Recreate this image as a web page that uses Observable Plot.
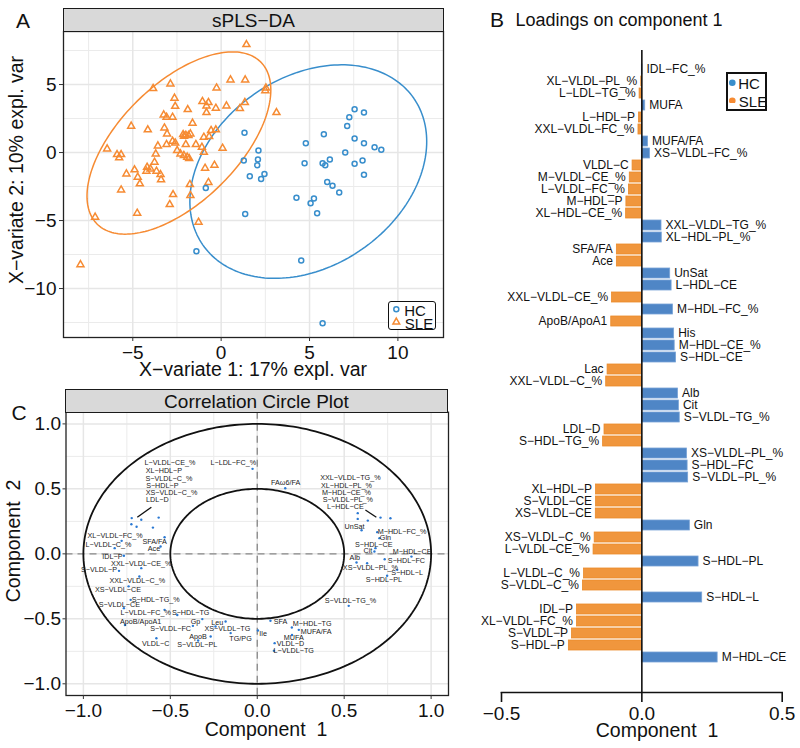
<!DOCTYPE html>
<html><head><meta charset="utf-8">
<script src="https://cdn.jsdelivr.net/npm/d3@7"></script>
<script src="https://cdn.jsdelivr.net/npm/@observablehq/plot@0.6"></script>
<style>
body{margin:0;background:#fff;font-family:"Liberation Sans",Arial,sans-serif;}
#page{position:relative;width:800px;height:748px;overflow:hidden;background:#fff;}
#page svg{position:absolute;}
.strip{position:absolute;background:#D9D9D9;border:1.5px solid #1a1a1a;box-sizing:border-box;}
.lg{position:absolute;border:1.6px solid #111;box-sizing:border-box;border-radius:3px;background:#fff;}
</style></head>
<body><div id="page"></div>
<script>
// ---------- Panel A: sPLS-DA sample plot ----------
const sleX = [1.43,0.53,1.36,2.53,2.5,-0.26,-2.87,-3.85,-2.64,-2.6,-1.89,-1.06,-0.72,-0.83,-0.3,0.3,1.06,1.34,3.13,-3.25,-3.09,-2.75,-1.62,-0.83,-5.09,-4.15,-3.21,-3.06,-2.15,-2.0,-1.74,-2.1,-1.85,-0.57,-0.3,-0.98,-0.68,-3.58,-3.09,-2.75,-2.6,-2.0,-1.43,-1.09,0.08,-6.45,-5.89,-5.66,-5.77,-3.7,-2.49,-2.3,-2.11,-1.92,-1.81,-0.98,-3.77,-4.19,-4.0,-4.23,-3.66,-3.43,-3.4,-5.36,-4.9,-4.72,-4.6,-0.91,-0.38,-1.77,-0.72,-5.66,-2.72,-1.74,-2.91,-4.75,-7.13,-1.28,-7.96];
const sleY = [7.94,5.34,5.34,4.75,4.55,4.75,5.05,4.71,4.0,3.4,3.16,3.75,3.68,3.43,3.26,3.43,3.24,3.68,2.94,2.77,2.6,2.6,2.16,2.94,1.94,1.67,1.81,1.37,1.32,1.27,1.37,1.2,1.25,1.62,1.67,1.13,1.18,0.49,0.59,0.83,0.7,0.59,0.59,0.39,0.32,0.27,-0.15,-0.15,-0.39,-0.1,0.15,-0.1,-0.22,-0.34,-0.44,0.02,-0.71,-1.08,-1.2,-1.37,-1.37,-1.62,-2.0,-1.57,-1.27,-1.81,-2.3,-1.15,-0.93,-2.35,-2.2,-2.75,-3.09,-3.16,-3.82,-4.46,-4.75,-5.12,-8.24];
const hcX = [1.32,2.11,2.08,2.04,1.28,1.62,2.26,2.45,-0.87,1.36,-1.4,4.79,4.72,5.81,5.74,5.89,6.15,6.0,6.3,6.68,4.26,5.25,5.06,5.43,4.53,5.74,7.13,7.25,7.55,8.08,7.55,8.08,7.02,7.55,8.0,8.08,8.68,9.06];
const hcY = [1.45,0.15,-0.51,-0.93,-0.59,-1.74,-1.94,-1.57,-2.6,-4.51,-7.25,0.69,-0.78,1.35,-0.78,-0.93,-0.51,-2.16,-2.45,-2.94,-3.33,-3.38,-3.73,-4.46,-7.94,-12.55,1.96,2.6,3.19,2.94,1.03,0.69,0.0,-0.83,-0.59,-1.64,0.39,0.2];
// 95% confidence ellipse parameters per group (centre, sd x, sd y, covariance)
const ellipseGroups = ["HC","SLE"];
const ellipseCx = [4.93,-2.39];
const ellipseCy = [-1.4,0.7];
const ellipseSx = [6.7,5.2];
const ellipseSy = [7.85,6.7];
const ellipseSxy = [14.8,20.3];
const xTicksA = [-5,0,5,10];
const yTicksA = [-10,-5,0,5];
const xMinorA = [-7.5,-2.5,2.5,7.5];
const yMinorA = [-12.5,-7.5,-2.5,2.5,7.5];

// ---------- Panel B: loadings on component 1 ----------
const loadNames = ["IDL-FC_%","XL-VLDL-PL_%","L-LDL-TG_%","MUFA","L-HDL-P","XXL-VLDL-FC_%","MUFA/FA","XS-VLDL-FC_%","VLDL-C","M-VLDL-CE_%","L-VLDL-FC_%","M-HDL-P","XL-HDL-CE_%","XXL-VLDL-TG_%","XL-HDL-PL_%","SFA/FA","Ace","UnSat","L-HDL-CE","XXL-VLDL-CE_%","M-HDL-FC_%","ApoB/ApoA1","His","M-HDL-CE_%","S-HDL-CE","Lac","XXL-VLDL-C_%","Alb","Cit","S-VLDL-TG_%","LDL-D","S-HDL-TG_%","XS-VLDL-PL_%","S-HDL-FC","S-VLDL-PL_%","XL-HDL-P","S-VLDL-CE","XS-VLDL-CE","Gln","XS-VLDL-C_%","L-VLDL-CE_%","S-HDL-PL","L-VLDL-C_%","S-VLDL-C_%","S-HDL-L","IDL-P","XL-VLDL-FC_%","S-VLDL-P","S-HDL-P","M-HDL-CE"];
const loadValues = [0.002,-0.002,-0.008,0.012,-0.01,-0.012,0.022,0.029,-0.033,-0.043,-0.046,-0.055,-0.056,0.07,0.071,-0.089,-0.089,0.101,0.106,-0.106,0.111,-0.109,0.115,0.117,0.122,-0.122,-0.127,0.129,0.132,0.135,-0.133,-0.138,0.161,0.163,0.165,-0.163,-0.163,-0.164,0.171,-0.168,-0.172,0.202,-0.206,-0.21,0.215,-0.231,-0.231,-0.249,-0.26,0.27];
const loadGroups = loadValues.map(v => v > 0 ? "HC" : "SLE");
const xTicksB = [-0.5,0,0.5];

// ---------- Panel C: correlation circle ----------
const corrNames = ["L-LDL-FC_%","L-VLDL-CE_%","XL-HDL-P","S-VLDL-C_%","S-HDL-P","XS-VLDL-C_%","LDL-D","XL-VLDL-FC_%","L-VLDL-C_%","SFA/FA","Ace","IDL-P","XXL-VLDL-CE_%","S-VLDL-P","XXL-VLDL-C_%","XS-VLDL-CE","S-HDL-TG_%","S-VLDL-CE","L-VLDL-FC_%","S-HDL-TG","ApoB/ApoA1","Gp","Leu","S-VLDL-FC","XS-VLDL-TG","ApoB","TG/PG","VLDL-C","S-VLDL-PL","S-VLDL-TG_%","SFA","Ile","M-HDL-TG","MUFA/FA","MUFA","VLDL-D","L-VLDL-TG","FAω6/FA","XXL-VLDL-TG_%","XL-HDL-PL_%","M-HDL-CE_%","S-VLDL-PL_%","L-HDL-CE","UnSat","M-HDL-FC_%","Gln","S-HDL-CE","Cit","M-HDL-CE","Alb","S-HDL-FC","XS-VLDL-PL_%","S-HDL-L","S-HDL-PL"];
const corrX = [-0.027,-0.722,-0.667,-0.567,-0.724,-0.694,-0.6,-0.78,-0.82,-0.533,-0.556,-0.767,-0.667,-0.795,-0.678,-0.74,-0.728,-0.767,-0.533,-0.46,-0.761,-0.316,-0.182,-0.37,-0.24,-0.268,-0.153,-0.58,-0.34,0.526,0.076,0.004,0.199,0.239,0.2,0.1,0.096,0.161,0.709,0.766,0.578,0.578,0.636,0.6,0.69,0.703,0.68,0.674,0.887,0.571,0.733,0.632,0.805,0.747];
const corrY = [0.654,0.275,0.262,0.279,0.228,0.208,0.202,0.1,0.044,0.128,0.056,-0.015,-0.11,-0.131,-0.174,-0.25,-0.354,-0.418,-0.431,-0.47,-0.548,-0.502,-0.521,-0.554,-0.559,-0.636,-0.61,-0.649,-0.667,-0.4,-0.515,-0.59,-0.567,-0.585,-0.625,-0.687,-0.746,0.505,0.279,0.274,0.313,0.269,0.256,0.182,0.167,0.121,0.044,0.018,-0.021,-0.067,-0.041,-0.072,-0.123,-0.169];
const corrLabelX = [-0.138,-0.502,-0.537,-0.508,-0.546,-0.493,-0.575,-0.818,-0.856,-0.59,-0.594,-0.833,-0.667,-0.91,-0.69,-0.801,-0.584,-0.793,-0.642,-0.383,-0.671,-0.355,-0.23,-0.498,-0.172,-0.341,-0.096,-0.584,-0.345,0.536,0.134,0.034,0.316,0.339,0.21,0.191,0.21,0.163,0.536,0.513,0.513,0.521,0.507,0.559,0.833,0.737,0.67,0.636,0.891,0.561,0.858,0.651,0.862,0.728];
const corrLabelY = [0.705,0.698,0.638,0.579,0.525,0.467,0.415,0.138,0.069,0.09,0.038,-0.021,-0.072,-0.123,-0.21,-0.277,-0.354,-0.392,-0.456,-0.456,-0.521,-0.521,-0.533,-0.577,-0.577,-0.636,-0.652,-0.692,-0.7,-0.362,-0.521,-0.615,-0.541,-0.598,-0.648,-0.692,-0.744,0.548,0.585,0.528,0.472,0.418,0.362,0.21,0.167,0.121,0.069,0.025,0.018,-0.033,-0.052,-0.11,-0.144,-0.2];
const leaderX1 = [-0.609,0.622], leaderY1 = [0.359,0.338], leaderX2 = [-0.69,0.685], leaderY2 = [0.282,0.282];
const circleRadii = [1,0.5];
const ticksC = [-1,-0.5,0,0.5,1];
const minorC = [-0.75,-0.25,0.25,0.75];

// ---------- styling ----------
const FONT = "'Liberation Sans', Arial, sans-serif";
const BLUE = "#388ECC", ORANGE = "#F68B33";
const GRID = "#EBEBEB";
const page = document.getElementById("page");
const minus = s => s.replace(/-/g, "\u2212");

function place(el, left, top) { el.style.left = left + "px"; el.style.top = top + "px"; page.appendChild(el); }
function label(str, x, y, size, rotate) {
  const d = document.createElement("div");
  d.textContent = str;
  Object.assign(d.style, {position:"absolute", left:x+"px", top:y+"px", fontSize:size+"px", lineHeight:"1",
    whiteSpace:"pre", color:"#111", fontFamily:FONT,
    transform:"translate(-50%,-50%)" + (rotate ? " rotate(-90deg)" : "")});
  page.appendChild(d);
}
const baseStyle = {background:"transparent", overflow:"visible", fontFamily:FONT, color:"#222"};

// ===== Panel A =====
const sle = sleX.map((x,i) => ({x, y: sleY[i]}));
const hc = hcX.map((x,i) => ({x, y: hcY[i]}));
const ell = ellipseGroups.flatMap((g,k) => d3.range(0,201).map(j => {
  const t = j/200*2*Math.PI;
  const b = ellipseSxy[k]/ellipseSx[k];
  const c = Math.sqrt(ellipseSy[k]**2 - b*b);
  return {g, x: ellipseCx[k] + ellipseSx[k]*Math.cos(t), y: ellipseCy[k] + b*Math.cos(t) + c*Math.sin(t)};
}));
const plotA = Plot.plot({
  width:460, height:390, marginLeft:63, marginRight:17, marginTop:31, marginBottom:53,
  x:{domain:[-8.92,12.58]}, y:{domain:[-13.6,8.9]},
  color:{domain:["HC","SLE"], range:[BLUE, ORANGE]},
  style:baseStyle,
  marks:[
    Plot.gridX(xMinorA, {stroke:GRID, strokeOpacity:1, strokeWidth:1}),
    Plot.gridY(yMinorA, {stroke:GRID, strokeOpacity:1, strokeWidth:1}),
    Plot.gridX(xTicksA, {stroke:"#E6E6E6", strokeOpacity:1, strokeWidth:1.5}),
    Plot.gridY(yTicksA, {stroke:"#E6E6E6", strokeOpacity:1, strokeWidth:1.5}),
    Plot.line(ell, {x:"x", y:"y", z:"g", stroke:"g", strokeWidth:1.5}),
    Plot.dot(sle, {x:"x", y:"y", symbol:"triangle", r:2.6, stroke:ORANGE, strokeWidth:1.5}),
    Plot.dot(hc, {x:"x", y:"y", symbol:"circle", r:2.5, stroke:BLUE, strokeWidth:1.5}),
    Plot.frame({stroke:"#222", strokeWidth:1.3}),
    Plot.axisX(xTicksA, {tickSize:4, tickPadding:4, fontSize:19, label:null, stroke:"#333", fill:"#111"}),
    Plot.axisY(yTicksA, {tickSize:4, tickPadding:3, fontSize:19, label:null, stroke:"#333", fill:"#111"})
  ]
});
place(plotA, 0, 0);

// ===== Panel B =====
const loads = loadNames.map((n,i) => ({name:n, value:loadValues[i], group:loadGroups[i]}));
const plotB = Plot.plot({
  width:340, height:748, marginLeft:41, marginRight:18.3, marginTop:50, marginBottom:56,
  x:{domain:[-0.5,0.5]},
  y:{domain:loadNames, range:[56.7,669.1], padding:0.18, axis:null},
  color:{domain:["HC","SLE"], range:["#4F86C6","#F0963D"]},
  style:baseStyle,
  marks:[
    Plot.barX(loads, {x:"value", y:"name", fill:"group", stroke:d => d.group === "HC" ? "#79A3D6" : "#EA8A2A", strokeWidth:0.8}),
    Plot.ruleX([0], {stroke:"#111", strokeWidth:1.6}),
    Plot.text(loads.filter(d => d.value > 0), {x:"value", y:"name", text:d => minus(d.name), textAnchor:"start", dx:4, fontSize:12, fill:"#111"}),
    Plot.text(loads.filter(d => d.value <= 0), {x:"value", y:"name", text:d => minus(d.name), textAnchor:"end", dx:-4, fontSize:12, fill:"#111"}),
    Plot.frame({anchor:"bottom", stroke:"#111", strokeWidth:1.6}),
    Plot.axisX(xTicksB, {tickSize:10, tickPadding:4, fontSize:19, tickFormat:d3.format(".1f"), label:null, stroke:"#111", strokeWidth:1.6, fill:"#111"})
  ]
});
place(plotB, 460, 0);

// ===== Panel C =====
const circ = circleRadii.flatMap((r,k) => d3.range(0,241).map(j => {
  const t = j/240*2*Math.PI; return {k, x:r*Math.cos(t), y:r*Math.sin(t)};
}));
const corr = corrNames.map((n,i) => ({name:n, x:corrX[i], y:corrY[i], lx:corrLabelX[i], ly:corrLabelY[i]}));
const leaders = leaderX1.map((x1,i) => ({x1, y1:leaderY1[i], x2:leaderX2[i], y2:leaderY2[i]}));
const plotC = Plot.plot({
  width:460, height:368, marginLeft:65.5, marginRight:12, marginTop:31.7, marginBottom:53,
  x:{domain:[-1.1,1.1]}, y:{domain:[-1.09,1.09]},
  style:baseStyle,
  marks:[
    Plot.gridX(minorC, {stroke:GRID, strokeOpacity:1, strokeWidth:1}),
    Plot.gridY(minorC, {stroke:GRID, strokeOpacity:1, strokeWidth:1}),
    Plot.gridX(ticksC, {stroke:"#E6E6E6", strokeOpacity:1, strokeWidth:1.5}),
    Plot.gridY(ticksC, {stroke:"#E6E6E6", strokeOpacity:1, strokeWidth:1.5}),
    Plot.ruleX([0], {stroke:"#888", strokeWidth:1.3, strokeDasharray:"7,5"}),
    Plot.ruleY([0], {stroke:"#888", strokeWidth:1.3, strokeDasharray:"7,5"}),
    Plot.line(circ, {x:"x", y:"y", z:"k", stroke:"#111", strokeWidth:1.8}),
    Plot.link(leaders, {x1:"x1", y1:"y1", x2:"x2", y2:"y2", stroke:"#111", strokeWidth:1.3}),
    Plot.dot(corr, {x:"x", y:"y", r:1.2, fill:"#2A78D2"}),
    Plot.text(corr, {x:"lx", y:"ly", text:d => minus(d.name), fontSize:7.2, fill:"#1a1a1a"}),
    Plot.frame({stroke:"#222", strokeWidth:1.3}),
    Plot.axisX(ticksC, {tickSize:4, tickPadding:4, fontSize:19, tickFormat:d3.format(".1f"), label:null, stroke:"#333", fill:"#111"}),
    Plot.axisY(ticksC, {tickSize:3, tickPadding:2, fontSize:19, tickFormat:d3.format(".1f"), label:null, stroke:"#333", fill:"#111"})
  ]
});
place(plotC, 0, 380);

// ===== strips, titles, letters =====
function strip(left, top, w, h, text) {
  const d = document.createElement("div"); d.className = "strip";
  Object.assign(d.style, {left:left+"px", top:top+"px", width:w+"px", height:h+"px"});
  page.appendChild(d);
  label(text, left + w/2, top + h/2 + 0.5, 19);
}
strip(63, 7.5, 381, 24, "sPLS\u2212DA");
strip(65, 389, 383, 23.5, "Correlation Circle Plot");
label("A", 23, 19.5, 21);
label("B", 497, 18.5, 21);
label("C", 19, 411.5, 21);
label("Loadings on component 1", 619, 20, 18);
label("X\u2212variate 1: 17% expl. var", 253, 370, 19.5);
label("X\u2212variate 2: 10% expl. var", 16.5, 170, 19.5, true);
label("Component  1", 657, 731, 19.5);
label("Component  1", 266, 730, 19.5);
label("Component  2", 13.5, 541, 19.5, true);

// legend A
const lgA = document.createElement("div"); lgA.className = "lg";
Object.assign(lgA.style, {left:"388px", top:"301px", width:"48px", height:"29px"});
page.appendChild(lgA);
const symA = document.createElementNS("http://www.w3.org/2000/svg","svg");
symA.setAttribute("width","20"); symA.setAttribute("height","30");
symA.style.left = "386px"; symA.style.top = "300px"; symA.style.position = "absolute";
symA.innerHTML = `<circle cx="10.3" cy="9.3" r="2.5" fill="none" stroke="${BLUE}" stroke-width="1.5"/>` +
  `<path d="${d3.symbol(d3.symbolTriangle, 2.5*2.5*Math.PI)()}" transform="translate(10.3,22)" fill="none" stroke="${ORANGE}" stroke-width="1.5"/>`;
page.appendChild(symA);
label("HC", 415, 309.5, 15);
label("SLE", 419, 322.5, 15);

// legend B
const lgB = document.createElement("div"); lgB.className = "lg";
Object.assign(lgB.style, {left:"726px", top:"72px", width:"41px", height:"39px", borderRadius:"0", border:"2px solid #111"});
page.appendChild(lgB);
const symB = document.createElementNS("http://www.w3.org/2000/svg","svg");
symB.setAttribute("width","14"); symB.setAttribute("height","30");
Object.assign(symB.style, {position:"absolute", left:"725px", top:"73px"});
symB.innerHTML = `<circle cx="7.3" cy="9.7" r="3.3" fill="${BLUE}"/><circle cx="7.3" cy="27.7" r="3.3" fill="${ORANGE}"/>`;
page.appendChild(symB);
label("HC", 749, 83, 15);
label("SLE", 753, 101, 15);
</script>
</body></html>
